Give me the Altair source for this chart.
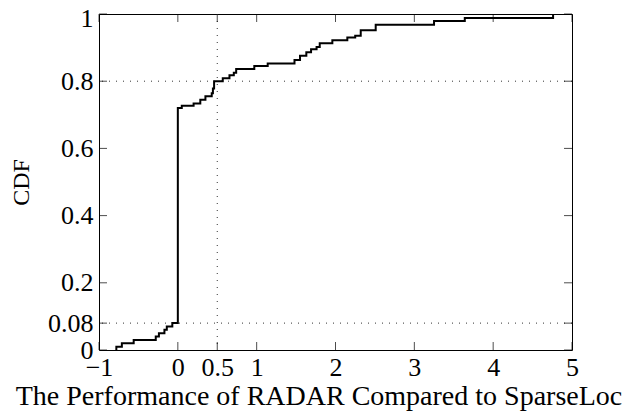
import altair as alt
import pandas as pd

# CDF step points
perf_x = [-0.78, -0.78, -0.71, -0.56, -0.28, -0.24, -0.17, -0.14, -0.07,
          0.0, 0.05, 0.20, 0.285, 0.35, 0.43, 0.445, 0.46, 0.57, 0.655,
          0.71, 0.74, 0.97, 1.14, 1.48, 1.55, 1.63, 1.69, 1.76, 1.80, 1.96,
          2.15, 2.25, 2.32, 2.51, 3.25, 3.64, 4.76]
cdf_y = [0.0, 0.01, 0.02, 0.03, 0.04, 0.05, 0.06, 0.07, 0.08,
         0.72, 0.727, 0.734, 0.745, 0.755, 0.764, 0.778, 0.80, 0.809, 0.818,
         0.825, 0.836, 0.845, 0.853, 0.863, 0.876, 0.886, 0.895, 0.902, 0.913, 0.922,
         0.930, 0.935, 0.952, 0.968, 0.979, 0.988, 1.0]

x_ticks = [-1, 0, 0.5, 1, 2, 3, 4, 5]
y_ticks = [0, 0.08, 0.2, 0.4, 0.6, 0.8, 1]
x_ref = [0.5]
y_ref = [0.08, 0.8]

W, H = 473, 336
FONT = "Liberation Serif"

df = pd.DataFrame({"x": perf_x, "y": cdf_y})
xt = pd.DataFrame({"x": x_ticks})
yt = pd.DataFrame({"y": y_ticks})
xr = pd.DataFrame({"x": x_ref})
yr = pd.DataFrame({"y": y_ref})

xscale = alt.Scale(domain=[-1, 5], nice=False, zero=False)
yscale = alt.Scale(domain=[0, 1], nice=False, zero=False)

line = alt.Chart(df).mark_line(
    interpolate="step-after", color="black", strokeWidth=2
).encode(
    x=alt.X("x:Q", scale=xscale,
            axis=alt.Axis(values=x_ticks, title="The Performance of RADAR Compared to SparseLoc",
                          labelExpr="datum.value < 0 ? '\u2212' + abs(datum.value) : datum.label",
                          format="~g", tickSize=0, labelPadding=4, titlePadding=2,
                          labelFontSize=26, titleFontSize=28, titleX=W / 2 - 17,
                          grid=False, domain=False)),
    y=alt.Y("y:Q", scale=yscale,
            axis=alt.Axis(values=y_ticks, title="CDF", format="~g", tickSize=0,
                          labelPadding=6, titlePadding=14,
                          labelFontSize=26, titleFontSize=24,
                          labelOffset={"condition": {"test": "datum.value == 1", "value": 4}, "value": 0},
                          grid=False, domain=False)),
)

vref = alt.Chart(xr).mark_rule(color="#333333", strokeWidth=1, strokeDash=[1, 6]).encode(
    x=alt.X("x:Q", scale=xscale))
href = alt.Chart(yr).mark_rule(color="#333333", strokeWidth=1, strokeDash=[1, 6]).encode(
    y=alt.Y("y:Q", scale=yscale))

tick_style = dict(color="black", thickness=1, size=8)
bt = alt.Chart(xt).mark_tick(**tick_style).encode(x=alt.X("x:Q", scale=xscale), y=alt.value(H - 4))
tt = alt.Chart(xt).mark_tick(**tick_style).encode(x=alt.X("x:Q", scale=xscale), y=alt.value(4))
lt = alt.Chart(yt).mark_tick(**tick_style).encode(y=alt.Y("y:Q", scale=yscale), x=alt.value(4))
rt = alt.Chart(yt).mark_tick(**tick_style).encode(y=alt.Y("y:Q", scale=yscale), x=alt.value(W - 4))

chart = alt.layer(vref, href, bt, tt, lt, rt, line).properties(
    width=W, height=H,
    autosize=alt.AutoSizeParams(type="none"),
    padding={"left": 91, "top": 6, "right": 56, "bottom": 72},
    background="white",
).configure_view(
    stroke="black", strokeWidth=1
).configure_axis(
    labelFont=FONT, titleFont=FONT,
    labelColor="black", titleColor="black", titleFontWeight="normal",
    labelFlush=False, labelOverlap=False
)

chart.save("out.html", embed_options={"renderer": "svg", "actions": False})
